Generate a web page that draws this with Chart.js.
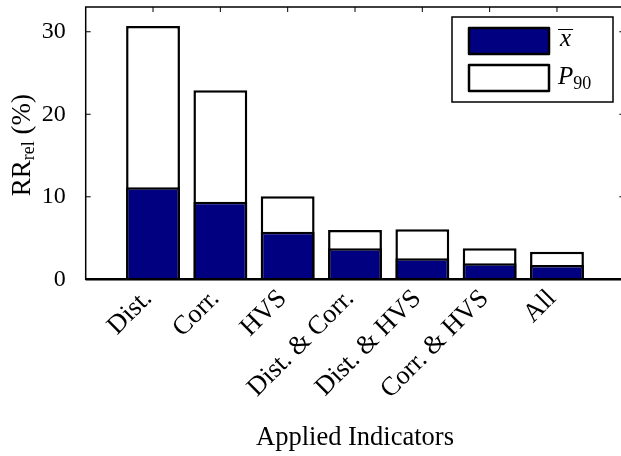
<!DOCTYPE html>
<html>
<head>
<meta charset="utf-8">
<script src="https://cdn.jsdelivr.net/npm/chart.js@4.4.0/dist/chart.umd.min.js"></script>
<style>
  html, body { margin: 0; padding: 0; background: #fff; overflow: hidden; }
  #wrap { width: 626px; height: 456px; }
</style>
</head>
<body>
<div id="wrap"><canvas id="chart" width="626" height="456"></canvas></div>
<script>
const categories = ['Dist.', 'Corr.', 'HVS', 'Dist. & Corr.', 'Dist. & HVS', 'Corr. & HVS', 'All'];
const meanValues = [11.15, 9.4, 5.77, 3.76, 2.55, 1.94, 1.73];
const p90Values = [30.7, 22.9, 10.06, 5.98, 6.06, 3.76, 3.35];
const yTicks = [0, 10, 20, 30];

const serif = "'Liberation Serif', 'DejaVu Serif', serif";
const navy = '#000080';

Chart.defaults.font.family = serif;
Chart.defaults.font.size = 26;
Chart.defaults.color = '#000';

function toPoints(values) {
  return values.map((v, i) => ({ x: i, y: v }));
}

// frame round the plot with short inward ticks
const framePlugin = {
  id: 'frame',
  afterDatasetsDraw(chart) {
    const { ctx, chartArea: a, scales } = chart;
    const x = scales.x;
    const y = scales.y;
    ctx.save();
    ctx.strokeStyle = '#000';
    ctx.lineWidth = 1.5;
    ctx.strokeRect(a.left, a.top, a.right - a.left, a.bottom - a.top);
    ctx.lineWidth = 1;
    ctx.beginPath();
    y.ticks.forEach((t) => {
      const py = y.getPixelForValue(t.value);
      ctx.moveTo(a.left, py);
      ctx.lineTo(a.left + 5, py);
      ctx.moveTo(a.right, py);
      ctx.lineTo(a.right - 5, py);
    });
    x.ticks.forEach((t) => {
      const px = x.getPixelForValue(t.value);
      ctx.moveTo(px, a.top);
      ctx.lineTo(px, a.top + 5);
    });
    ctx.stroke();
    ctx.lineWidth = 2.5;
    ctx.beginPath();
    ctx.moveTo(a.left, a.bottom);
    ctx.lineTo(a.right, a.bottom);
    ctx.stroke();
    ctx.restore();
  }
};

// y title with subscript, and the legend box in the corner
const textPlugin = {
  id: 'texts',
  afterDraw(chart) {
    const { ctx, chartArea: a } = chart;
    ctx.save();
    ctx.fillStyle = '#000';

    // y axis title: RR_rel (%)
    const big = '27px ' + serif;
    const small = '18px ' + serif;
    ctx.font = big;
    const w1 = ctx.measureText('RR').width;
    const w3 = ctx.measureText(' (%)').width;
    ctx.font = small;
    const w2 = ctx.measureText('rel').width;
    const total = w1 + w2 + w3;
    ctx.translate(30, (a.top + a.bottom) / 2 + 2);
    ctx.rotate(-Math.PI / 2);
    ctx.textBaseline = 'alphabetic';
    ctx.textAlign = 'left';
    let cx = -total / 2;
    ctx.font = big;
    ctx.fillText('RR', cx, 0);
    cx += w1;
    ctx.font = small;
    ctx.fillText('rel', cx, 4);
    cx += w2;
    ctx.font = big;
    ctx.fillText(' (%)', cx, 0);
    ctx.setTransform(1, 0, 0, 1, 0, 0);

    // legend
    const lx = 452, ly = 17, lw = 161, lh = 85;
    ctx.fillStyle = '#fff';
    ctx.fillRect(lx, ly, lw, lh);
    ctx.strokeStyle = '#000';
    ctx.lineWidth = 1.5;
    ctx.strokeRect(lx, ly, lw, lh);
    ctx.lineJoin = 'round';
    chart.data.datasets.forEach((ds, i) => {
      const sy = 28 + i * 37;
      ctx.fillStyle = ds.backgroundColor;
      ctx.fillRect(469, sy, 80, 26);
      ctx.lineWidth = 2.5;
      ctx.strokeRect(469, sy, 80, 26);
      ctx.fillStyle = '#000';
      ctx.textBaseline = 'middle';
      ctx.textAlign = 'left';
      ctx.font = 'italic 25px ' + serif;
      if (i === 0) {
        ctx.fillText('x', 560, sy + 11);
        const xw = ctx.measureText('x').width;
        ctx.lineWidth = 1;
        ctx.beginPath();
        ctx.moveTo(558, sy + 1.5);
        ctx.lineTo(560 + xw + 2, sy + 1.5);
        ctx.stroke();
      } else {
        ctx.fillText('P', 558, sy + 12);
        const pw = ctx.measureText('P').width;
        ctx.font = '18px ' + serif;
        ctx.fillText('90', 558 + pw, sy + 19);
      }
    });
    ctx.restore();
  }
};

new Chart(document.getElementById('chart'), {
  type: 'bar',
  data: {
    datasets: [
      {
        label: 'x\u0304',
        data: toPoints(meanValues),
        backgroundColor: navy,
        borderColor: '#000',
        borderWidth: 2.5,
        grouped: false,
        barPercentage: 1,
        categoryPercentage: 0.8
      },
      {
        label: 'P90',
        data: toPoints(p90Values),
        backgroundColor: '#fff',
        borderColor: '#000',
        borderWidth: 2.5,
        grouped: false,
        barPercentage: 1,
        categoryPercentage: 0.8
      }
    ]
  },
  options: {
    responsive: false,
    animation: false,
    layout: { padding: { top: 7, right: 1.7, left: 0, bottom: 0 } },
    plugins: {
      legend: { display: false },
      tooltip: { enabled: false }
    },
    scales: {
      x: {
        type: 'linear',
        min: -1,
        max: 7,
        offset: false,
        grid: { display: false },
        border: { display: false },
        afterBuildTicks: (scale) => {
          scale.ticks = categories.map((c, i) => ({ value: i }));
        },
        afterFit: (scale) => {
          scale.height = 176.7;
          scale.paddingLeft = 0;
          scale.paddingRight = 0;
        },
        ticks: {
          autoSkip: false,
          minRotation: 45,
          maxRotation: 45,
          padding: -4,
          labelOffset: -5,
          font: { size: 26.5 },
          callback: (v) => categories[v] ?? ''
        },
        title: {
          display: true,
          text: 'Applied Indicators',
          font: { size: 26.5 },
          padding: { top: 0, bottom: 2 }
        }
      },
      y: {
        min: 0,
        max: 33,
        grid: { display: false },
        border: { display: false },
        afterBuildTicks: (scale) => {
          scale.ticks = yTicks.map((v) => ({ value: v }));
        },
        afterFit: (scale) => {
          scale.width = 85.7;
          scale.paddingTop = 0;
          scale.paddingBottom = 0;
        },
        ticks: { padding: 12, font: { size: 24 } }
      }
    }
  },
  plugins: [framePlugin, textPlugin]
});
</script>
</body>
</html>
